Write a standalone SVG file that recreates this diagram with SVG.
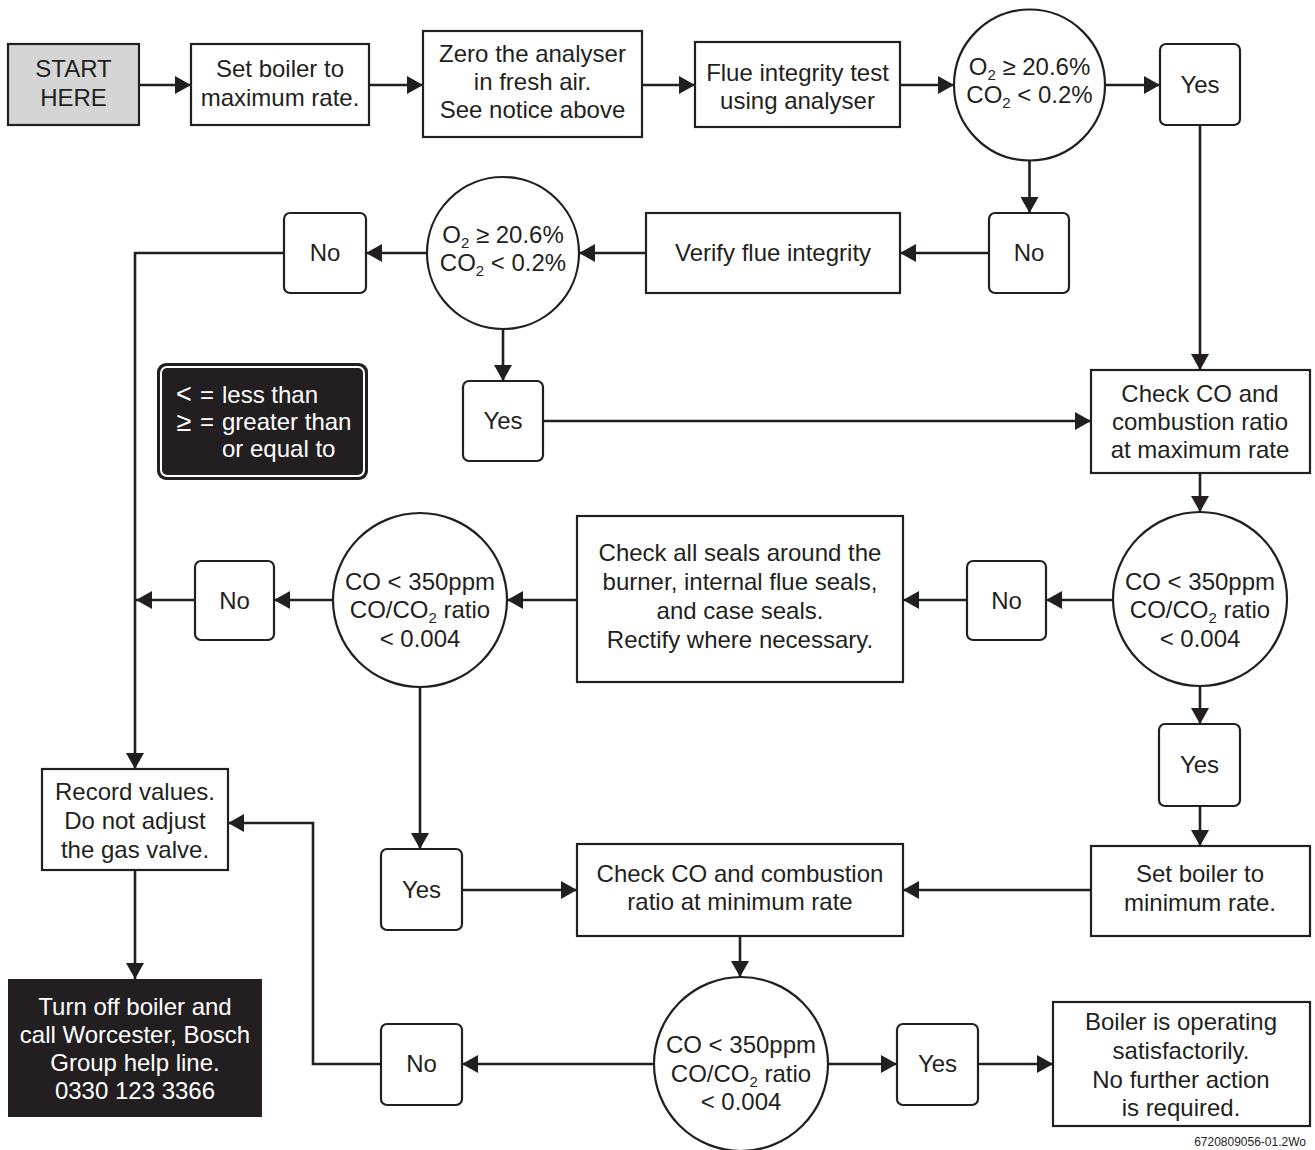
<svg xmlns="http://www.w3.org/2000/svg" width="1315" height="1150" viewBox="0 0 1315 1150">
<style>
text{font-family:"Liberation Sans",Arial,sans-serif;font-size:24px;fill:#231f20;text-anchor:middle}
.box{fill:#fff;stroke:#231f20;stroke-width:2.2}
.dec{fill:#fff;stroke:#231f20;stroke-width:2.2}
.yn{fill:#fff;stroke:#231f20;stroke-width:2.2}
.wt{fill:#fff}
.sub{font-size:15px}
.con{fill:none;stroke:#231f20;stroke-width:2.6;marker-end:url(#ah)}
.foot{font-size:12px;text-anchor:end}
</style>
<defs>
<marker id="ah" viewBox="0 0 16 18" markerWidth="16" markerHeight="18" refX="16" refY="9" orient="auto" markerUnits="userSpaceOnUse">
<path d="M0,0 L16,9 L0,18 Z" fill="#231f20"/>
</marker>
</defs>

<g id="connectors">
<path class="con" d="M139,85 H191"/>
<path class="con" d="M369,85 H423"/>
<path class="con" d="M642,85 H695"/>
<path class="con" d="M900,85 H954"/>
<path class="con" d="M1105,85 H1160"/>
<path class="con" d="M1200,125 V370"/>
<path class="con" d="M1029.5,160 V213"/>
<path class="con" d="M989,253 H900"/>
<path class="con" d="M646,253 H579"/>
<path class="con" d="M427,253 H366"/>
<path class="con" d="M284,253 H135 V769"/>
<path class="con" d="M503,329 V381"/>
<path class="con" d="M543,421 H1091"/>
<path class="con" d="M1200,473 V512"/>
<path class="con" d="M1113,600 H1046"/>
<path class="con" d="M967,600 H903"/>
<path class="con" d="M577,600 H507"/>
<path class="con" d="M333,600 H274"/>
<path class="con" d="M195,600 H136"/>
<path class="con" d="M1200,686 V724"/>
<path class="con" d="M1200,806 V846"/>
<path class="con" d="M1091,890 H903"/>
<path class="con" d="M420,687 V849"/>
<path class="con" d="M462,890 H577"/>
<path class="con" d="M740,936 V977"/>
<path class="con" d="M828,1064 H897"/>
<path class="con" d="M978,1064 H1053"/>
<path class="con" d="M654,1064 H462"/>
<path class="con" d="M381,1064 H313 V823 H228"/>
<path class="con" d="M135,870 V979"/>
</g>

<g id="start">
<rect x="8" y="44" width="131" height="81" fill="#d5d5d5" stroke="#231f20" stroke-width="2.2"/>
<text x="73.5" y="77">START</text>
<text x="73.5" y="106">HERE</text>
</g>

<g id="set-max">
<rect class="box" x="191" y="44" width="178" height="81"/>
<text x="280" y="77">Set boiler to</text>
<text x="280" y="106">maximum rate.</text>
</g>

<g id="zero">
<rect class="box" x="423" y="31" width="219" height="106"/>
<text x="532.5" y="62">Zero the analyser</text>
<text x="532.5" y="90">in fresh air.</text>
<text x="532.5" y="118">See notice above</text>
</g>

<g id="flue-test">
<rect class="box" x="695" y="42" width="205" height="85"/>
<text x="797.5" y="81">Flue integrity test</text>
<text x="797.5" y="109">using analyser</text>
</g>

<g id="dec1">
<circle class="dec" cx="1029.5" cy="85" r="75.5"/>
<text x="1029.5" y="75">O<tspan class="sub" dy="5">2</tspan><tspan dy="-5"> ≥ 20.6%</tspan></text>
<text x="1029.5" y="103">CO<tspan class="sub" dy="5">2</tspan><tspan dy="-5"> &lt; 0.2%</tspan></text>
</g>

<g id="yes1">
<rect class="yn" x="1160" y="44" width="80" height="81" rx="6"/>
<text x="1200" y="93">Yes</text>
</g>

<g id="no1">
<rect class="yn" x="989" y="213" width="80" height="80" rx="6"/>
<text x="1029" y="261">No</text>
</g>

<g id="verify">
<rect class="box" x="646" y="213" width="254" height="80"/>
<text x="773" y="261">Verify flue integrity</text>
</g>

<g id="dec2">
<circle class="dec" cx="503" cy="253" r="76"/>
<text x="503" y="243">O<tspan class="sub" dy="5">2</tspan><tspan dy="-5"> ≥ 20.6%</tspan></text>
<text x="503" y="271">CO<tspan class="sub" dy="5">2</tspan><tspan dy="-5"> &lt; 0.2%</tspan></text>
</g>

<g id="no2">
<rect class="yn" x="284" y="213" width="82" height="80" rx="6"/>
<text x="325" y="261">No</text>
</g>

<g id="legend">
<rect x="157" y="363" width="211" height="117" rx="9" fill="#231f20"/>
<rect x="161" y="367" width="203" height="109" rx="6" fill="none" stroke="#fff" stroke-width="2"/>
<text class="wt" x="184" y="403" style="font-size:27px">&lt;</text>
<text class="wt" x="207" y="403">=</text>
<text class="wt" x="222" y="403" style="text-anchor:start">less than</text>
<text class="wt" x="184" y="431" style="font-size:27px">≥</text>
<text class="wt" x="207" y="430">=</text>
<text class="wt" x="222" y="430" style="text-anchor:start">greater than</text>
<text class="wt" x="222" y="457" style="text-anchor:start">or equal to</text>
</g>

<g id="yes2">
<rect class="yn" x="463" y="381" width="80" height="80" rx="6"/>
<text x="503" y="429">Yes</text>
</g>

<g id="check-max">
<rect class="box" x="1091" y="370" width="219" height="103"/>
<text x="1200" y="402">Check CO and</text>
<text x="1200" y="430">combustion ratio</text>
<text x="1200" y="458">at maximum rate</text>
</g>

<g id="dec3">
<circle class="dec" cx="1200" cy="599" r="87"/>
<text x="1200" y="590">CO &lt; 350ppm</text>
<text x="1200" y="618">CO/CO<tspan class="sub" dy="5">2</tspan><tspan dy="-5"> ratio</tspan></text>
<text x="1200" y="647">&lt; 0.004</text>
</g>

<g id="no3">
<rect class="yn" x="967" y="561" width="79" height="79" rx="6"/>
<text x="1006.5" y="609">No</text>
</g>

<g id="seals">
<rect class="box" x="577" y="516" width="326" height="166"/>
<text x="740" y="561">Check all seals around the</text>
<text x="740" y="590">burner, internal flue seals,</text>
<text x="740" y="619">and case seals.</text>
<text x="740" y="648">Rectify where necessary.</text>
</g>

<g id="dec4">
<circle class="dec" cx="420" cy="600" r="87"/>
<text x="420" y="590">CO &lt; 350ppm</text>
<text x="420" y="618">CO/CO<tspan class="sub" dy="5">2</tspan><tspan dy="-5"> ratio</tspan></text>
<text x="420" y="647">&lt; 0.004</text>
</g>

<g id="no4">
<rect class="yn" x="195" y="561" width="79" height="79" rx="6"/>
<text x="234.5" y="609">No</text>
</g>

<g id="record">
<rect class="box" x="42" y="769" width="186" height="101"/>
<text x="135" y="800">Record values.</text>
<text x="135" y="829">Do not adjust</text>
<text x="135" y="858">the gas valve.</text>
</g>

<g id="turn-off">
<rect x="8" y="979" width="254" height="138" fill="#231f20"/>
<text class="wt" x="135" y="1015">Turn off boiler and</text>
<text class="wt" x="135" y="1043">call Worcester, Bosch</text>
<text class="wt" x="135" y="1071">Group help line.</text>
<text class="wt" x="135" y="1099">0330 123 3366</text>
</g>

<g id="yes3">
<rect class="yn" x="381" y="849" width="81" height="81" rx="6"/>
<text x="421.5" y="898">Yes</text>
</g>

<g id="check-min">
<rect class="box" x="577" y="844" width="326" height="92"/>
<text x="740" y="882">Check CO and combustion</text>
<text x="740" y="910">ratio at minimum rate</text>
</g>

<g id="yes4">
<rect class="yn" x="1159" y="724" width="81" height="82" rx="6"/>
<text x="1199.5" y="773">Yes</text>
</g>

<g id="set-min">
<rect class="box" x="1091" y="846" width="219" height="90"/>
<text x="1200" y="882">Set boiler to</text>
<text x="1200" y="911">minimum rate.</text>
</g>

<g id="dec5">
<circle class="dec" cx="741" cy="1064" r="87"/>
<text x="741" y="1053">CO &lt; 350ppm</text>
<text x="741" y="1082">CO/CO<tspan class="sub" dy="5">2</tspan><tspan dy="-5"> ratio</tspan></text>
<text x="741" y="1110">&lt; 0.004</text>
</g>

<g id="yes5">
<rect class="yn" x="897" y="1024" width="81" height="81" rx="6"/>
<text x="937.5" y="1072">Yes</text>
</g>

<g id="no5">
<rect class="yn" x="381" y="1024" width="81" height="81" rx="6"/>
<text x="421.5" y="1072">No</text>
</g>

<g id="satisfactory">
<rect class="box" x="1053" y="1002" width="257" height="124"/>
<text x="1181" y="1030">Boiler is operating</text>
<text x="1181" y="1059">satisfactorily.</text>
<text x="1181" y="1088">No further action</text>
<text x="1181" y="1116">is required.</text>
</g>

<text class="foot" x="1306" y="1146">6720809056-01.2Wo</text>
</svg>
